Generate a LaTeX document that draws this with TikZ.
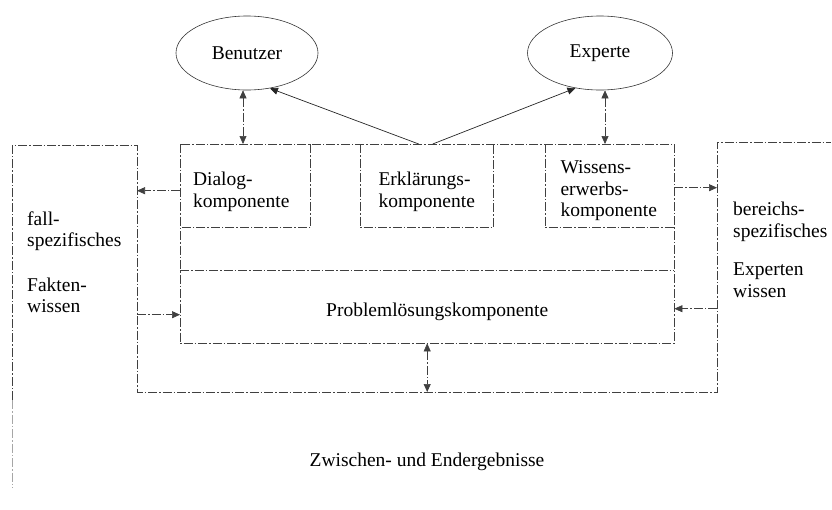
\documentclass[tikz,border=0pt]{standalone}
\usepackage{fontspec}
\setmainfont{Liberation Serif}
\usetikzlibrary{shapes.geometric,arrows.meta}

\tikzset{
  rahmen/.style={draw=black!75, line width=0.6pt, dash pattern=on 9pt off 2pt on 1.5pt off 2pt},
  komp/.style={rectangle, inner sep=0pt, anchor=north west},
  person/.style={draw=black!80, ellipse, line width=0.6pt, inner sep=0pt},
  txt/.style={inner sep=0pt, align=left},
  pfeil/.style={rahmen, -{Triangle[length=8pt,width=7pt]}},
  doppel/.style={rahmen, {Triangle[length=8pt,width=7pt]}-{Triangle[length=8pt,width=7pt]}},
  linie/.style={draw=black!85, line width=0.7pt, -{Triangle[length=8pt,width=7pt]}}
}

\begin{document}
\begin{tikzpicture}[x=1pt, y=-1pt, font=\fontsize{19.5pt}{21.5pt}\selectfont]
\useasboundingbox (0,0) rectangle (832,509);

% Personen
\node[person, minimum width=142pt, minimum height=74pt] (benutzer) at (247,53) {Benutzer};
\node[person, minimum width=145pt, minimum height=74pt] (experte) at (600,53) {Experte};

% Komponenten
\node[komp, minimum width=494pt, minimum height=199pt] (kern) at (180,144) {};
\node[komp, minimum width=130pt, minimum height=83pt] (dialog) at (180,144) {};
\node[komp, minimum width=133pt, minimum height=83pt] (erkl) at (360,144) {};
\node[komp, minimum width=129pt, minimum height=83pt] (wissen) at (545,144) {};
\node[komp, minimum width=494pt, minimum height=73pt] (problem) at (180,270) {};

\node[txt] (dialogtext) at ([shift={(-4pt,-6pt)}]dialog.center) {Dialog-\\komponente};
\node[txt] (erkltext) at ([shift={(0pt,-6pt)}]erkl.center) {Erklärungs-\\komponente};
\node[txt] (wissentext) at ([shift={(-1pt,-5pt)}]wissen.center) {Wissens-\\erwerbs-\\komponente};
\node[txt] (problemtext) at ([shift={(10pt,-5pt)}]problem.center) {Problemlösungskomponente};

\draw[rahmen] (kern.north west) rectangle (kern.south east);
\draw[rahmen] (dialog.north east) -- (dialog.south east) -- (dialog.south west);
\draw[rahmen] (erkl.north west) -- (erkl.south west) -- (erkl.south east) -- (erkl.north east);
\draw[rahmen] (wissen.north west) -- (wissen.south west) -- (wissen.south east);
\draw[rahmen] (problem.north west) -- (problem.north east);

% Wissensbereiche
\coordinate (links) at (137,145);
\coordinate (rechts) at (717,142);
\coordinate (unten) at (430,392);
\draw[rahmen] (12,400) -- (12,145) -- (links) -- (links |- unten)
  -- (rechts |- unten) -- (rechts) -- (831,142);
\draw[rahmen, draw=black!35] (12,400) -- (12,488);

\node[txt, anchor=west] (fall) at (27,262) {fall-\\spezifisches\\[23pt]Fakten-\\wissen};
\node[txt, anchor=west] (bereich) at (733,250) {bereichs-\\spezifisches\\[17pt]Experten\\wissen};
\node[txt] (ergebnis) at (427,462) {Zwischen- und Endergebnisse};

% Verbindungen
\coordinate (bd) at ([xshift=-4pt]benutzer.south);
\coordinate (ew) at ([xshift=5pt]experte.south);
\draw[doppel] (bd) -- (bd |- dialog.north);
\draw[doppel] (ew) -- (ew |- wissen.north);
\draw[linie] ([xshift=-8pt]erkl.north) -- (benutzer.-57);
\draw[linie] ([xshift=6pt]erkl.north) -- (experte.-125);

\coordinate (dl) at ([yshift=-5pt]dialog.west);
\coordinate (pl) at ([yshift=-8pt]problem.west);
\coordinate (wr) at ([yshift=-2pt]wissen.east);
\coordinate (pr) at ([yshift=-2pt]problem.east);
\draw[pfeil] (dl) -- (dl -| links);
\draw[pfeil] (pl -| links) -- (pl);
\draw[pfeil] (wr) -- (wr -| rechts);
\draw[pfeil] (pr -| rechts) -- (pr);
\draw[doppel] (problem.south) -- (problem.south |- unten);
\end{tikzpicture}
\end{document}
